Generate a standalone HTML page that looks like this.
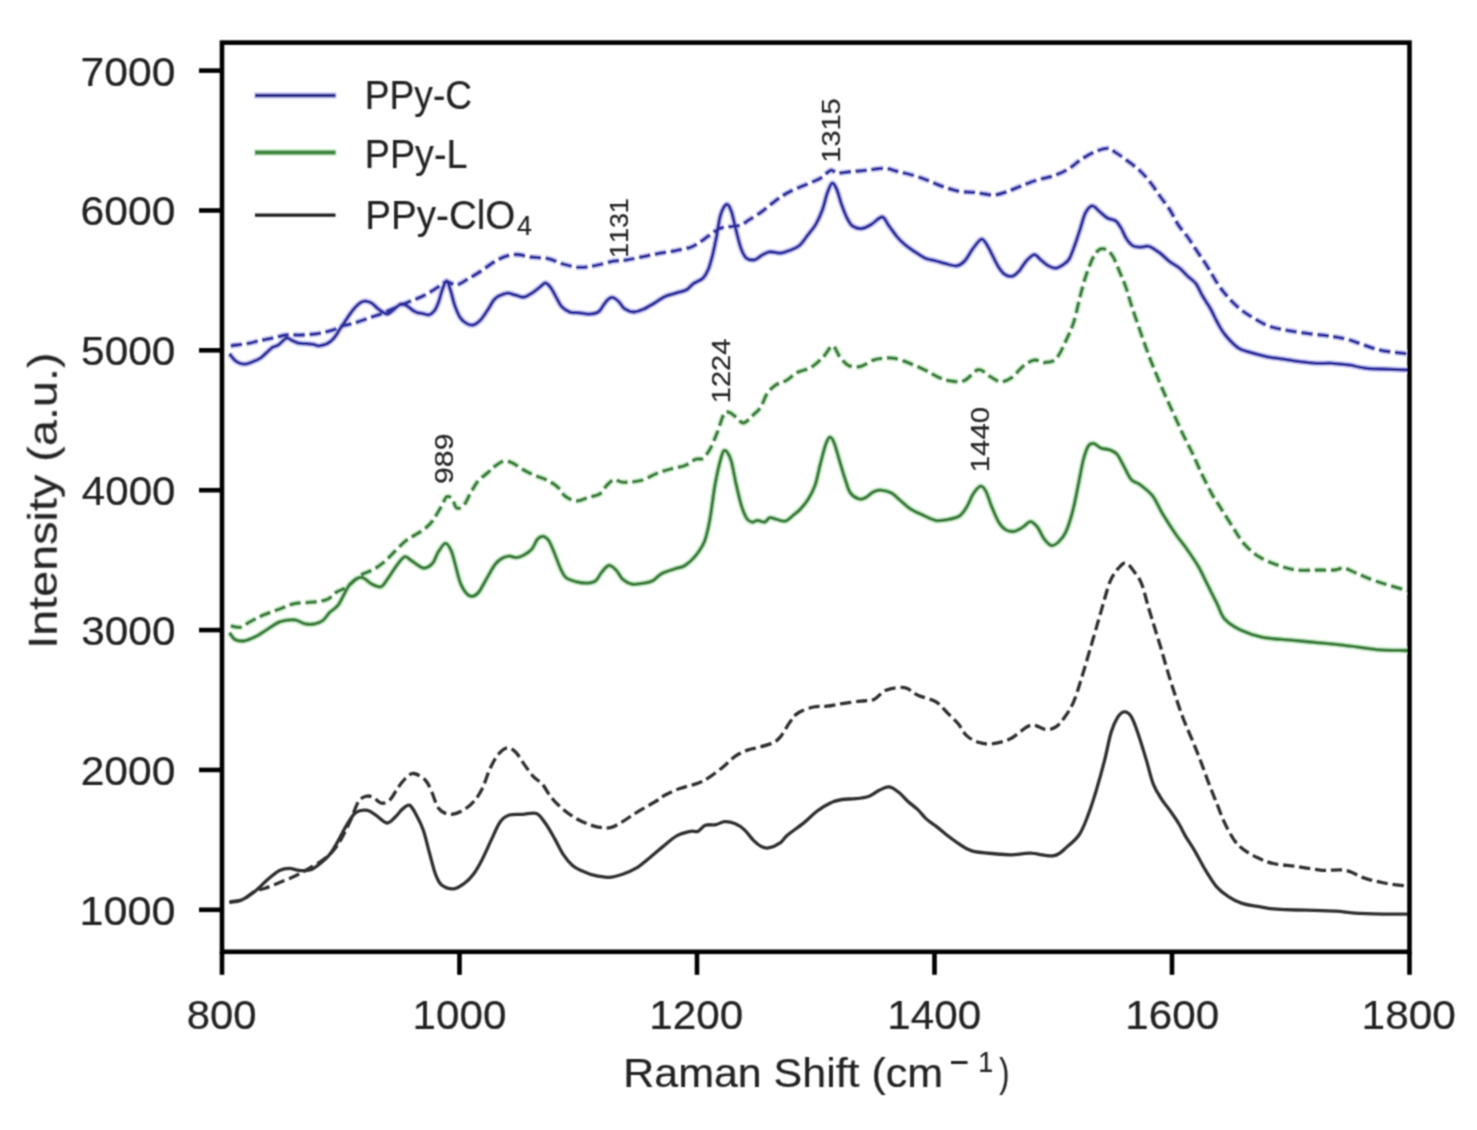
<!DOCTYPE html>
<html><head><meta charset="utf-8"><style>
html,body{margin:0;padding:0;background:#fff;width:1477px;height:1130px;overflow:hidden}
svg{display:block}
text{font-family:"Liberation Sans",sans-serif;font-kerning:none;stroke:#222;stroke-width:0.2px}
</style></head><body>
<svg width="1477" height="1130" viewBox="0 0 1477 1130">
<rect width="1477" height="1130" fill="#fff"/>
<defs><filter id="bl" filterUnits="userSpaceOnUse" x="0" y="0" width="1477" height="1130"><feConvolveMatrix order="3" kernelMatrix="0.0571 0.1248 0.0571 0.1248 0.2725 0.1248 0.0571 0.1248 0.0571" edgeMode="none"/></filter><clipPath id="ax"><rect x="222.0" y="42.6" width="1187.5" height="909.1999999999999"/></clipPath></defs>
<g filter="url(#bl)">
<g clip-path="url(#ax)">
<path d="M230.8,625.9 C232.4,626.1 237.1,628.0 240.3,627.3 C243.5,626.6 246.0,623.9 249.8,621.9 C253.6,619.9 258.3,617.2 263.3,615.1 C268.3,613.0 274.4,610.9 279.6,609.0 C284.8,607.1 289.1,604.7 294.5,603.6 C299.9,602.5 306.7,602.9 312.1,602.2 C317.5,601.5 322.9,601.2 327.0,599.5 C331.1,597.8 333.1,594.2 336.5,592.1 C339.9,590.0 343.2,589.5 347.3,586.7 C351.4,583.9 356.5,578.0 360.8,575.2 C365.1,572.4 369.2,571.9 373.0,569.7 C376.8,567.6 380.2,565.3 383.8,562.3 C387.4,559.3 391.1,555.0 394.7,551.5 C398.3,548.0 402.1,543.8 405.5,541.0 C408.9,538.2 411.9,537.0 415.0,535.0 C418.1,533.0 421.2,531.6 424.2,529.2 C427.1,526.8 429.9,524.5 432.7,520.7 C435.5,516.9 438.8,510.6 441.2,506.6 C443.6,502.6 444.9,497.9 446.8,496.7 C448.7,495.5 450.9,497.6 452.5,499.5 C454.1,501.4 454.8,507.1 456.7,508.0 C458.6,508.9 461.4,507.8 463.8,505.2 C466.2,502.6 468.5,496.4 470.9,492.4 C473.3,488.4 475.2,484.4 478.0,481.1 C480.8,477.8 485.1,475.1 487.9,472.6 C490.7,470.1 492.4,468.1 495.0,466.2 C497.6,464.3 500.7,461.8 503.5,461.2 C506.3,460.6 508.7,461.3 512.0,462.7 C515.3,464.1 519.5,467.6 523.3,469.7 C527.1,471.8 530.8,473.7 534.6,475.4 C538.4,477.1 542.2,477.8 546.0,479.7 C549.8,481.6 554.0,483.9 557.3,486.7 C560.6,489.5 562.5,494.3 565.8,496.7 C569.1,499.1 573.3,500.8 577.1,500.9 C580.9,501.0 584.7,498.6 588.5,497.4 C592.3,496.2 596.7,495.9 599.8,493.8 C602.9,491.7 604.7,487.4 607.1,485.0 C609.5,482.6 611.6,480.1 614.2,479.6 C616.9,479.2 618.6,482.2 623.0,482.3 C627.4,482.4 635.1,482.0 640.7,480.5 C646.3,479.0 651.6,475.4 656.6,473.5 C661.6,471.6 666.1,470.3 670.8,469.0 C675.5,467.7 680.9,467.1 685.0,465.5 C689.1,463.9 692.6,460.5 695.6,459.3 C698.6,458.1 700.4,460.0 702.7,458.4 C705.1,456.8 707.4,453.7 709.7,449.6 C712.1,445.5 714.4,439.5 716.8,433.6 C719.2,427.7 721.8,417.7 723.9,414.2 C726.0,410.7 727.4,412.1 729.2,412.4 C731.0,412.7 732.1,414.1 734.5,415.9 C736.9,417.7 740.4,423.0 743.4,423.0 C746.4,423.0 749.4,418.5 752.2,415.9 C755.1,413.3 758.0,411.2 760.5,407.5 C763.0,403.8 764.5,397.5 767.1,393.7 C769.7,389.9 772.7,387.1 775.9,384.9 C779.1,382.7 783.0,382.5 786.5,380.4 C790.0,378.3 793.1,374.7 797.2,372.5 C801.3,370.3 806.9,369.9 811.3,367.2 C815.7,364.5 820.2,360.1 823.7,356.5 C827.2,352.9 830.0,345.9 832.6,345.9 C835.2,345.9 837.0,353.2 839.6,356.5 C842.2,359.8 845.0,363.8 848.5,365.4 C852.0,367.0 856.8,367.2 860.9,366.3 C865.0,365.4 869.5,361.4 873.3,360.1 C877.1,358.8 880.4,358.6 883.9,358.3 C887.4,358.0 890.1,357.4 894.5,358.3 C898.9,359.2 905.1,361.5 910.4,363.6 C915.7,365.7 922.0,368.6 926.4,370.7 C930.8,372.8 933.3,374.9 937.0,376.5 C940.7,378.1 944.0,379.9 948.5,380.6 C953.0,381.3 958.9,382.6 963.9,380.8 C968.9,379.0 974.0,370.5 978.2,369.7 C982.5,368.9 985.7,374.1 989.4,376.1 C993.1,378.1 996.8,381.4 1000.5,381.6 C1004.2,381.9 1008.0,380.1 1011.7,377.6 C1015.4,375.1 1019.1,369.4 1022.8,366.5 C1026.5,363.6 1030.3,360.8 1034.0,360.1 C1037.7,359.4 1041.4,362.8 1045.1,362.5 C1048.8,362.2 1052.8,362.1 1056.2,358.5 C1059.7,354.9 1062.9,347.1 1065.8,341.0 C1068.7,334.9 1071.4,329.3 1073.8,321.9 C1076.2,314.5 1078.0,304.4 1080.1,296.4 C1082.2,288.4 1084.1,281.0 1086.5,274.1 C1088.9,267.2 1091.8,259.2 1094.5,255.0 C1097.2,250.8 1099.5,248.7 1102.4,248.7 C1105.3,248.7 1109.1,251.0 1112.0,255.0 C1114.9,259.0 1117.5,266.9 1119.9,272.5 C1122.3,278.1 1124.2,282.4 1126.3,288.5 C1128.4,294.6 1129.5,299.7 1132.7,309.2 C1135.9,318.7 1141.6,335.4 1145.2,345.5 C1148.8,355.6 1151.4,362.2 1154.6,370.1 C1157.8,378.0 1160.9,385.6 1164.1,392.9 C1167.3,400.2 1170.4,406.8 1173.6,413.7 C1176.8,420.6 1179.9,428.0 1183.1,434.6 C1186.3,441.2 1189.4,447.0 1192.6,453.6 C1195.8,460.2 1198.8,467.8 1202.0,474.4 C1205.2,481.0 1208.7,488.2 1211.5,493.4 C1214.3,498.6 1215.6,500.0 1219.1,505.5 C1222.6,511.0 1228.3,520.1 1232.4,526.4 C1236.5,532.7 1239.3,538.3 1243.7,543.4 C1248.1,548.5 1253.2,553.1 1258.9,556.7 C1264.6,560.3 1271.6,563.0 1277.9,565.2 C1284.2,567.4 1289.8,569.2 1296.8,570.0 C1303.8,570.8 1313.3,570.0 1319.6,570.0 C1325.9,570.0 1330.6,570.3 1334.7,570.0 C1338.8,569.7 1340.4,567.5 1344.2,568.1 C1348.0,568.7 1352.1,571.5 1357.5,573.7 C1362.9,575.9 1368.5,578.6 1376.4,581.3 C1384.3,584.0 1399.0,588.3 1404.9,589.9 C1410.8,591.5 1410.8,590.8 1412.0,591.0" fill="none" stroke="#d2f2d2" stroke-width="6.3" stroke-linejoin="round" stroke-dasharray="11.2 4.8"/>
<path d="M229.5,632.7 C230.4,633.8 232.4,638.1 234.9,639.5 C237.4,640.9 241.0,641.2 244.4,640.8 C247.8,640.3 251.4,638.7 255.2,636.8 C259.0,634.9 263.3,631.8 267.4,629.3 C271.5,626.8 275.5,623.5 279.6,621.9 C283.7,620.3 288.9,620.0 291.8,619.8 C294.7,619.6 294.9,619.8 297.2,620.5 C299.4,621.2 302.4,623.3 305.3,623.9 C308.2,624.5 311.9,624.5 314.8,623.9 C317.7,623.3 320.4,622.4 322.9,620.5 C325.4,618.6 327.2,614.9 329.7,612.4 C332.2,609.9 335.3,608.8 337.8,605.6 C340.3,602.4 342.6,597.0 344.6,593.4 C346.6,589.8 347.8,586.6 350.0,584.0 C352.2,581.4 355.9,578.9 358.1,577.9 C360.4,576.9 361.2,576.9 363.5,577.9 C365.8,578.9 368.8,582.5 371.7,584.0 C374.6,585.5 378.4,587.6 381.1,586.7 C383.8,585.8 385.4,581.9 387.9,578.5 C390.4,575.1 393.3,570.0 396.0,566.4 C398.7,562.8 401.8,558.0 404.2,556.9 C406.6,555.8 408.4,558.7 410.5,560.0 C412.6,561.3 414.8,563.2 417.1,564.6 C419.4,566.0 421.6,568.4 424.2,568.2 C426.8,568.0 430.3,565.9 432.7,563.2 C435.1,560.5 436.2,555.2 438.3,551.9 C440.4,548.6 443.3,543.6 445.4,543.4 C447.5,543.2 449.5,547.0 451.1,550.5 C452.8,554.0 453.7,558.9 455.3,564.6 C456.9,570.3 458.6,579.3 461.0,584.5 C463.4,589.7 466.7,594.4 469.5,595.8 C472.3,597.2 475.2,595.8 478.0,593.0 C480.8,590.2 483.7,583.5 486.5,578.8 C489.3,574.1 492.4,568.0 495.0,564.6 C497.6,561.2 499.7,559.7 502.1,558.3 C504.5,556.9 506.8,556.2 509.2,556.1 C511.6,556.0 513.9,557.7 516.2,557.6 C518.6,557.5 520.7,556.8 523.3,555.4 C525.9,554.0 529.4,551.8 531.8,549.1 C534.2,546.4 535.6,541.3 537.5,539.2 C539.4,537.1 541.2,536.1 543.1,536.3 C545.0,536.5 546.9,537.8 548.8,540.6 C550.7,543.4 552.6,548.8 554.5,553.3 C556.4,557.8 558.2,563.5 560.1,567.5 C562.0,571.5 563.2,575.0 565.8,577.4 C568.4,579.8 572.2,580.6 575.7,581.6 C579.2,582.6 583.8,583.2 587.1,583.1 C590.4,583.0 593.2,582.7 595.6,580.9 C598.0,579.1 599.3,575.1 601.5,572.5 C603.7,569.9 606.4,565.9 608.8,565.5 C611.2,565.1 613.5,567.5 615.9,569.9 C618.3,572.2 620.3,577.2 623.0,579.6 C625.7,582.0 628.4,583.5 631.9,584.1 C635.4,584.7 640.7,583.8 644.2,583.2 C647.7,582.6 650.2,582.1 653.1,580.5 C656.0,578.9 658.4,575.4 661.9,573.5 C665.4,571.6 670.4,570.3 674.3,569.0 C678.1,567.7 681.5,567.7 685.0,565.5 C688.5,563.3 692.4,559.8 695.6,555.8 C698.8,551.8 702.0,547.5 704.4,541.6 C706.8,535.7 707.9,529.8 709.7,520.4 C711.5,511.0 713.2,495.0 715.0,485.0 C716.8,475.0 718.8,466.0 720.4,460.2 C722.0,454.4 723.0,450.4 724.8,450.4 C726.6,450.4 729.1,454.4 731.0,460.2 C732.9,466.0 734.5,477.3 736.3,485.0 C738.1,492.7 739.8,500.6 741.6,506.2 C743.4,511.8 745.1,516.0 746.9,518.6 C748.7,521.2 750.4,521.8 752.2,522.1 C754.0,522.4 755.4,520.4 757.5,520.4 C759.6,520.4 762.5,522.5 764.6,522.1 C766.7,521.7 767.8,518.1 769.9,517.7 C772.0,517.3 774.4,519.0 777.0,519.5 C779.6,520.0 783.0,521.8 785.8,521.0 C788.5,520.2 791.1,516.9 793.5,515.0 C795.9,513.1 797.6,512.0 800.0,509.5 C802.4,507.0 805.3,503.8 807.8,499.9 C810.3,495.9 812.8,491.7 814.9,485.8 C817.0,479.9 818.4,471.3 820.2,464.5 C822.0,457.7 823.9,449.6 825.5,445.0 C827.1,440.4 828.4,437.4 829.9,437.1 C831.4,436.8 832.7,439.3 834.3,443.3 C835.9,447.3 837.8,455.1 839.6,461.0 C841.4,466.9 843.2,473.4 845.0,478.7 C846.8,484.0 847.9,489.4 850.3,492.8 C852.6,496.2 856.5,498.2 859.1,499.0 C861.8,499.8 863.8,498.5 866.2,497.3 C868.6,496.1 870.9,493.1 873.3,491.9 C875.7,490.7 877.4,490.0 880.4,490.2 C883.4,490.4 887.8,491.2 891.0,492.8 C894.2,494.4 896.6,497.2 899.8,499.9 C903.0,502.6 906.6,506.3 910.4,508.8 C914.2,511.3 918.7,513.1 922.8,515.0 C926.9,516.9 931.1,519.5 935.2,520.3 C939.3,521.1 943.6,520.3 947.6,519.6 C951.6,518.9 956.4,518.0 959.5,516.0 C962.6,514.0 964.1,511.2 966.5,507.4 C968.9,503.6 971.2,496.8 973.6,493.3 C976.0,489.8 978.6,486.5 980.7,486.2 C982.8,485.9 984.2,488.2 986.0,491.5 C987.8,494.8 989.2,500.7 991.3,505.7 C993.4,510.7 996.0,517.6 998.4,521.6 C1000.8,525.6 1002.9,528.0 1005.5,529.6 C1008.1,531.2 1011.3,531.8 1014.3,531.3 C1017.2,530.8 1020.5,528.5 1023.2,526.9 C1025.9,525.3 1028.0,521.6 1030.3,521.6 C1032.6,521.6 1034.9,524.0 1037.3,526.9 C1039.7,529.8 1042.0,536.2 1044.4,539.3 C1046.8,542.4 1049.1,545.1 1051.5,545.5 C1053.9,545.9 1056.2,544.1 1058.6,541.9 C1061.0,539.7 1063.3,537.4 1065.7,532.2 C1068.1,527.1 1070.7,518.7 1072.7,511.0 C1074.8,503.3 1076.2,494.8 1078.0,486.2 C1079.8,477.6 1081.6,466.4 1083.4,459.6 C1085.2,452.8 1086.9,448.1 1088.7,445.5 C1090.5,442.9 1091.9,443.3 1094.0,443.7 C1096.1,444.1 1098.4,447.1 1101.1,448.1 C1103.8,449.1 1107.2,448.9 1109.9,449.9 C1112.6,450.9 1114.6,451.5 1117.0,454.3 C1119.4,457.1 1121.7,462.5 1124.1,466.7 C1126.5,470.9 1128.5,476.4 1131.2,479.5 C1133.9,482.6 1136.9,482.2 1140.5,485.0 C1144.1,487.8 1149.1,491.3 1152.7,496.0 C1156.3,500.7 1158.4,506.8 1162.2,513.1 C1166.0,519.4 1171.4,527.9 1175.5,533.9 C1179.6,539.9 1183.1,543.7 1186.9,549.1 C1190.7,554.5 1194.7,560.2 1198.2,566.2 C1201.7,572.2 1204.5,578.8 1207.7,585.1 C1210.9,591.4 1214.4,598.4 1217.2,604.1 C1220.0,609.8 1221.0,614.9 1224.8,619.2 C1228.6,623.5 1233.7,626.7 1240.0,629.7 C1246.3,632.7 1254.2,635.6 1262.7,637.3 C1271.2,639.0 1281.6,639.2 1291.1,640.1 C1300.6,641.0 1310.1,642.0 1319.6,642.9 C1329.1,643.8 1338.5,644.7 1348.0,645.8 C1357.5,646.9 1366.9,648.8 1376.4,649.6 C1385.9,650.4 1399.0,650.3 1404.9,650.5 C1410.8,650.7 1410.8,650.6 1412.0,650.6" fill="none" stroke="#d2f2d2" stroke-width="6.3" stroke-linejoin="round"/>
<path d="M230.8,345.8 C233.5,345.4 242.1,344.6 247.1,343.7 C252.1,342.8 256.1,341.4 260.6,340.4 C265.1,339.4 269.9,338.6 274.2,337.7 C278.5,336.8 281.9,335.4 286.4,335.0 C290.9,334.6 296.0,335.2 301.2,335.0 C306.4,334.8 312.3,334.4 317.5,333.6 C322.7,332.8 328.3,331.4 332.4,330.2 C336.5,328.9 338.1,327.3 341.9,326.1 C345.7,324.9 350.9,324.2 355.4,322.8 C359.9,321.4 364.5,319.6 369.0,318.0 C373.5,316.4 378.0,315.1 382.5,313.3 C387.0,311.5 391.5,309.2 396.0,307.2 C400.5,305.2 405.0,303.4 409.6,301.5 C414.2,299.6 418.9,298.1 423.5,295.8 C428.1,293.5 433.2,290.1 437.1,287.7 C441.0,285.3 443.5,282.1 446.6,281.6 C449.8,281.2 452.6,285.3 456.0,285.0 C459.4,284.7 462.8,281.9 466.9,279.6 C471.0,277.4 475.9,274.4 480.4,271.5 C484.9,268.6 489.9,264.5 494.0,262.0 C498.1,259.5 501.0,257.9 504.8,256.6 C508.6,255.4 512.5,254.4 517.0,254.5 C521.5,254.6 526.7,256.5 531.9,257.2 C537.1,257.9 542.9,257.5 548.1,258.6 C553.3,259.7 557.8,262.5 563.0,264.0 C568.2,265.5 573.9,267.1 579.3,267.4 C584.7,267.6 589.8,266.5 595.5,265.5 C601.2,264.5 608.2,262.1 613.5,261.2 C618.8,260.3 622.6,260.6 627.1,259.9 C631.6,259.2 635.6,258.2 640.6,257.2 C645.6,256.2 651.5,254.8 656.9,253.8 C662.3,252.8 667.7,252.1 673.1,251.1 C678.5,250.1 685.3,248.9 689.4,247.7 C693.5,246.4 694.4,245.5 697.5,243.6 C700.6,241.7 704.7,238.7 708.3,236.2 C711.9,233.7 715.8,230.3 719.2,228.7 C722.6,227.1 725.2,227.2 728.6,226.7 C732.0,226.1 736.1,226.5 739.5,225.4 C742.9,224.3 745.2,222.3 749.0,219.9 C752.8,217.5 758.0,214.4 762.5,211.1 C767.0,207.8 771.5,203.5 776.0,200.3 C780.5,197.1 784.3,194.4 789.6,191.7 C794.9,189.0 802.4,186.2 807.6,183.9 C812.9,181.6 817.3,180.1 821.1,177.8 C824.9,175.5 827.9,171.1 830.6,170.3 C833.3,169.5 834.0,172.8 837.4,173.0 C840.8,173.2 846.2,172.1 850.9,171.7 C855.6,171.2 860.1,170.9 865.8,170.3 C871.4,169.7 879.4,168.1 884.8,168.3 C890.2,168.5 893.3,170.5 898.3,171.7 C903.3,172.9 909.4,174.1 914.6,175.7 C919.8,177.3 924.8,179.3 929.5,181.1 C934.2,182.9 938.0,184.9 943.0,186.6 C948.0,188.3 953.9,190.3 959.3,191.3 C964.7,192.3 969.8,191.9 975.5,192.5 C981.2,193.1 988.2,195.2 993.5,195.0 C998.8,194.8 1002.6,193.1 1007.1,191.6 C1011.6,190.1 1015.6,188.1 1020.6,186.2 C1025.6,184.3 1031.5,181.8 1036.9,180.1 C1042.3,178.4 1047.9,177.8 1053.1,176.0 C1058.3,174.2 1063.2,172.1 1068.0,169.3 C1072.8,166.5 1077.1,162.0 1081.6,159.1 C1086.1,156.2 1090.8,153.5 1095.1,151.7 C1099.4,149.9 1103.9,148.2 1107.3,148.3 C1110.7,148.4 1112.2,150.4 1115.4,152.3 C1118.6,154.2 1122.1,156.8 1126.2,159.8 C1130.3,162.9 1135.7,166.8 1139.8,170.6 C1143.9,174.4 1147.2,178.5 1150.6,182.8 C1154.0,187.1 1156.9,191.9 1160.1,196.4 C1163.3,200.9 1167.0,205.3 1170.0,210.0 C1173.0,214.7 1175.0,219.9 1178.0,224.5 C1181.0,229.1 1184.6,232.8 1187.9,237.4 C1191.2,242.0 1194.3,247.1 1197.6,252.0 C1200.8,256.9 1204.2,261.5 1207.4,266.6 C1210.7,271.8 1213.8,278.0 1217.1,282.9 C1220.3,287.8 1223.1,291.6 1226.9,295.9 C1230.7,300.2 1235.3,305.1 1239.9,308.9 C1244.5,312.7 1249.4,315.6 1254.5,318.6 C1259.6,321.6 1264.8,324.7 1270.7,326.7 C1276.7,328.7 1283.2,329.6 1290.2,330.8 C1297.2,332.0 1306.0,333.2 1313.0,334.1 C1320.0,335.1 1326.5,335.6 1332.5,336.5 C1338.5,337.4 1343.3,338.2 1348.7,339.7 C1354.1,341.2 1359.6,343.6 1365.0,345.4 C1370.4,347.2 1374.4,348.9 1381.2,350.3 C1388.0,351.7 1400.5,353.0 1405.6,353.6 C1410.7,354.2 1410.9,353.9 1412.0,354.0" fill="none" stroke="#d4d4fa" stroke-width="6.3" stroke-linejoin="round" stroke-dasharray="11.2 4.8"/>
<path d="M229.5,353.9 C230.6,355.1 233.7,359.6 236.2,361.3 C238.7,363.0 241.4,364.1 244.4,364.1 C247.4,364.1 251.2,362.3 253.9,361.3 C256.6,360.3 258.4,359.6 260.6,358.0 C262.9,356.4 265.4,353.7 267.4,351.9 C269.4,350.1 271.0,348.2 272.8,347.1 C274.6,346.0 275.9,346.6 278.2,345.1 C280.5,343.6 284.1,339.1 286.4,338.3 C288.7,337.5 289.8,339.6 291.8,340.4 C293.8,341.2 296.0,342.6 298.5,343.1 C301.0,343.7 304.2,343.5 306.7,343.7 C309.2,343.9 311.4,344.0 313.4,344.4 C315.4,344.8 316.5,345.9 318.8,345.8 C321.1,345.7 324.5,344.9 327.0,343.7 C329.5,342.4 331.7,340.6 333.7,338.3 C335.7,336.1 337.4,332.9 339.2,330.2 C341.0,327.5 342.8,324.8 344.6,322.1 C346.4,319.4 348.2,316.5 350.0,314.0 C351.8,311.5 353.6,309.1 355.4,307.2 C357.2,305.3 359.1,303.4 360.8,302.4 C362.5,301.4 363.8,301.0 365.6,301.1 C367.4,301.2 369.8,302.0 371.7,303.1 C373.6,304.2 375.3,306.4 377.1,307.9 C378.9,309.4 380.8,310.9 382.5,311.9 C384.2,312.9 385.6,314.1 387.2,314.0 C388.8,313.9 390.3,312.4 392.0,311.2 C393.7,309.9 395.8,307.7 397.4,306.5 C399.0,305.3 399.8,303.9 401.4,303.8 C403.0,303.7 405.1,304.8 406.9,305.8 C408.7,306.8 410.6,308.9 412.3,310.0 C414.0,311.1 415.4,311.9 417.0,312.5 C418.6,313.1 420.2,313.0 422.2,313.4 C424.2,313.8 427.0,315.2 429.0,314.8 C431.0,314.4 432.8,312.7 434.4,310.7 C436.0,308.7 437.0,306.2 438.4,302.6 C439.8,299.0 441.1,292.7 442.5,289.1 C443.9,285.5 445.2,280.7 446.6,280.9 C448.0,281.1 449.2,286.3 450.6,290.4 C452.0,294.5 453.1,300.8 454.7,305.3 C456.3,309.8 458.1,314.4 460.1,317.5 C462.1,320.6 464.6,322.4 466.9,323.6 C469.1,324.8 471.4,325.5 473.6,324.9 C475.9,324.3 478.1,322.6 480.4,320.2 C482.7,317.8 484.9,314.1 487.2,310.7 C489.5,307.3 492.0,302.4 494.0,299.9 C496.0,297.4 497.1,296.9 499.4,295.8 C501.6,294.7 504.8,293.2 507.5,293.1 C510.2,293.0 512.9,294.5 515.6,295.2 C518.3,295.9 521.0,297.5 523.7,297.2 C526.4,296.9 529.2,294.8 531.9,293.1 C534.6,291.4 537.8,288.7 540.0,287.0 C542.2,285.3 543.6,282.9 545.4,283.0 C547.2,283.1 549.0,285.3 550.8,287.7 C552.6,290.1 554.4,294.0 556.2,297.2 C558.0,300.4 559.4,304.2 561.7,306.7 C564.0,309.2 566.9,311.1 569.8,312.1 C572.7,313.1 576.1,312.5 579.3,312.8 C582.4,313.1 585.6,314.2 588.7,314.1 C591.9,314.0 595.7,313.5 598.2,312.0 C600.7,310.5 602.0,307.1 603.6,305.0 C605.2,302.9 606.5,300.8 608.0,299.5 C609.5,298.2 611.1,297.1 612.9,297.5 C614.7,297.9 617.1,300.0 619.0,301.9 C620.9,303.8 621.9,306.9 624.4,308.6 C626.9,310.3 630.8,311.9 633.9,312.0 C637.0,312.1 639.9,310.8 643.3,309.3 C646.7,307.8 650.6,305.3 654.2,303.2 C657.8,301.1 661.4,298.2 665.0,296.5 C668.6,294.8 672.2,294.2 675.8,293.1 C679.4,292.0 683.8,291.3 686.7,289.7 C689.6,288.1 690.7,285.5 693.4,283.6 C696.1,281.7 700.4,280.6 702.9,278.2 C705.4,275.8 706.7,273.1 708.3,269.4 C709.9,265.7 711.0,261.2 712.4,255.8 C713.8,250.4 715.1,243.7 716.5,236.9 C717.9,230.1 718.8,220.6 720.5,215.2 C722.2,209.8 724.8,205.1 726.6,204.4 C728.4,203.7 729.8,207.3 731.3,211.1 C732.8,214.9 733.8,221.3 735.4,227.4 C737.0,233.5 739.0,242.6 740.8,247.7 C742.6,252.8 743.9,255.9 746.2,257.9 C748.5,259.9 751.9,260.2 754.4,259.9 C756.9,259.5 758.6,257.1 761.1,255.8 C763.6,254.5 766.1,252.2 769.3,251.8 C772.5,251.4 776.7,253.3 780.1,253.1 C783.5,252.9 786.4,251.7 789.6,250.4 C792.8,249.1 796.5,248.0 799.5,245.5 C802.5,243.0 804.9,238.8 807.6,235.3 C810.3,231.8 813.2,228.8 815.7,224.5 C818.2,220.2 820.6,214.8 822.5,209.6 C824.4,204.4 825.6,197.7 827.2,193.3 C828.8,188.9 830.4,183.9 832.0,183.2 C833.6,182.5 835.1,185.8 836.7,189.3 C838.3,192.8 839.8,199.5 841.5,204.2 C843.2,208.9 845.1,214.1 846.9,217.7 C848.7,221.3 849.8,224.0 852.3,225.8 C854.8,227.6 858.6,228.7 861.8,228.5 C864.9,228.3 867.8,226.4 871.2,224.5 C874.6,222.6 879.2,216.8 882.1,217.0 C885.0,217.2 886.4,222.5 888.9,225.8 C891.4,229.1 894.3,233.5 897.0,236.7 C899.7,239.9 902.2,242.3 905.1,244.8 C908.0,247.3 911.2,249.3 914.6,251.6 C918.0,253.8 921.8,256.7 925.4,258.3 C929.0,259.9 932.8,260.1 936.2,261.0 C939.6,261.9 942.3,262.9 945.7,263.7 C949.1,264.5 953.4,266.2 956.6,265.8 C959.8,265.4 962.0,263.8 964.7,261.0 C967.4,258.2 970.1,252.4 972.8,248.8 C975.5,245.2 978.8,240.5 980.9,239.4 C983.0,238.3 983.8,240.3 985.4,242.4 C987.0,244.5 988.8,248.1 990.8,251.9 C992.8,255.7 995.3,261.7 997.6,265.4 C999.9,269.1 1001.9,272.4 1004.4,274.2 C1006.9,276.0 1010.0,276.8 1012.5,276.2 C1015.0,275.6 1017.0,273.3 1019.3,270.8 C1021.5,268.3 1023.5,264.0 1026.0,261.3 C1028.5,258.6 1031.7,254.8 1034.2,254.6 C1036.7,254.4 1038.7,258.2 1040.9,260.0 C1043.2,261.8 1045.2,264.0 1047.7,265.4 C1050.2,266.8 1053.1,268.3 1055.8,268.1 C1058.5,267.9 1061.7,265.7 1064.0,264.1 C1066.3,262.5 1067.6,261.8 1069.4,258.6 C1071.2,255.4 1073.0,250.1 1074.8,245.1 C1076.6,240.1 1078.4,234.3 1080.2,228.9 C1082.0,223.5 1083.6,216.4 1085.6,212.6 C1087.6,208.8 1090.1,206.0 1092.4,205.8 C1094.7,205.6 1096.7,209.2 1099.2,211.2 C1101.7,213.2 1104.6,216.4 1107.3,218.0 C1110.0,219.6 1113.2,219.1 1115.4,220.7 C1117.7,222.3 1119.0,224.6 1120.8,227.5 C1122.6,230.4 1124.2,235.2 1126.2,238.3 C1128.2,241.4 1130.5,244.3 1133.0,245.8 C1135.5,247.3 1138.4,247.0 1141.1,247.1 C1143.8,247.2 1146.1,245.5 1149.3,246.5 C1152.5,247.5 1156.7,250.7 1160.1,253.2 C1163.5,255.7 1166.3,259.0 1169.6,261.5 C1172.9,264.0 1176.7,265.7 1179.7,268.2 C1182.8,270.7 1185.2,273.8 1187.9,276.4 C1190.6,279.0 1193.6,280.4 1196.0,283.7 C1198.4,286.9 1200.1,291.7 1202.5,295.9 C1204.9,300.1 1208.2,304.6 1210.6,308.9 C1213.0,313.2 1214.7,317.6 1217.1,321.9 C1219.5,326.2 1221.7,330.6 1225.2,334.9 C1228.7,339.2 1233.9,344.9 1238.2,347.9 C1242.5,350.9 1246.3,351.2 1251.2,352.7 C1256.1,354.2 1262.1,355.7 1267.5,356.8 C1272.9,357.9 1278.3,358.4 1283.7,359.2 C1289.1,360.0 1294.6,361.0 1300.0,361.7 C1305.4,362.4 1310.8,363.0 1316.2,363.3 C1321.6,363.6 1327.1,363.0 1332.5,363.3 C1337.9,363.6 1343.3,364.1 1348.7,364.9 C1354.1,365.7 1359.6,367.5 1365.0,368.2 C1370.4,368.9 1374.4,368.7 1381.2,369.0 C1388.0,369.3 1400.5,369.6 1405.6,369.8 C1410.7,370.0 1410.9,370.0 1412.0,370.0" fill="none" stroke="#d4d4fa" stroke-width="6.3" stroke-linejoin="round"/>
<path d="M229.9,901.6 C232.0,901.2 238.4,901.3 242.7,899.5 C246.9,897.7 251.6,892.9 255.4,891.0 C259.2,889.1 261.3,889.6 265.3,888.2 C269.3,886.8 274.5,884.5 279.5,882.5 C284.5,880.5 290.4,878.3 295.1,876.1 C299.8,873.9 303.3,871.7 307.8,869.1 C312.3,866.5 317.8,863.7 322.0,860.6 C326.2,857.5 330.0,854.5 333.3,850.7 C336.6,846.9 339.0,842.9 341.8,837.9 C344.6,832.9 347.5,827.0 350.3,820.9 C353.1,814.8 356.0,805.2 358.8,801.1 C361.6,797.0 364.7,796.6 367.3,796.1 C369.9,795.6 372.0,797.0 374.4,798.2 C376.8,799.4 378.9,803.0 381.5,803.2 C384.1,803.5 387.2,802.4 390.0,799.7 C392.8,797.0 395.7,790.7 398.5,786.9 C401.3,783.1 404.4,779.2 407.0,777.0 C409.6,774.8 411.0,773.0 414.0,773.5 C417.0,774.0 422.1,776.9 425.0,779.7 C427.9,782.5 428.8,785.4 431.1,790.2 C433.4,795.0 435.6,804.3 438.6,808.3 C441.6,812.3 445.3,813.8 449.1,814.3 C452.9,814.8 457.2,813.3 461.2,811.3 C465.2,809.3 469.7,806.0 473.2,802.2 C476.7,798.4 479.4,794.2 482.2,788.7 C485.0,783.2 487.3,774.6 489.8,769.1 C492.3,763.6 494.6,759.1 497.3,755.6 C500.1,752.1 503.3,748.7 506.3,748.1 C509.3,747.5 512.3,749.0 515.3,751.8 C518.3,754.5 521.4,760.5 524.4,764.6 C527.4,768.8 530.4,773.4 533.4,776.7 C536.4,780.0 539.4,780.7 542.4,784.2 C545.4,787.7 548.2,793.7 551.5,797.7 C554.8,801.7 558.2,805.0 562.0,808.3 C565.8,811.6 570.0,814.8 574.0,817.3 C578.0,819.8 582.1,821.7 586.1,823.3 C590.1,824.9 594.0,826.4 598.1,827.1 C602.2,827.8 606.4,828.5 610.5,827.6 C614.6,826.7 618.1,824.2 622.6,821.6 C627.1,819.0 631.8,815.3 637.6,811.8 C643.4,808.3 652.7,803.3 657.2,800.5 C661.7,797.7 660.9,797.2 664.7,795.2 C668.5,793.2 674.3,790.5 679.8,788.5 C685.3,786.5 693.0,785.0 697.8,783.2 C702.6,781.4 704.1,780.6 708.4,777.9 C712.7,775.1 718.9,770.3 723.4,766.7 C727.9,763.1 731.4,758.9 735.4,756.1 C739.4,753.3 743.5,751.6 747.5,750.1 C751.5,748.6 755.2,748.4 759.5,747.1 C763.8,745.9 769.6,744.4 773.1,742.6 C776.6,740.9 777.8,740.0 780.6,736.6 C783.4,733.2 787.1,725.9 790.0,722.0 C792.9,718.1 794.1,715.5 798.0,713.0 C801.9,710.5 808.7,708.1 813.5,707.0 C818.3,705.9 822.2,706.8 827.0,706.2 C831.8,705.6 836.5,704.5 842.1,703.6 C847.7,702.8 855.3,701.8 860.6,701.1 C865.9,700.4 869.9,701.2 874.1,699.4 C878.3,697.6 880.9,692.2 885.9,690.2 C890.9,688.2 899.1,686.9 904.4,687.7 C909.7,688.5 912.5,692.8 917.8,695.2 C923.1,697.6 931.2,698.9 936.3,702.0 C941.3,705.1 944.5,710.1 948.1,713.7 C951.8,717.3 955.1,720.1 958.2,723.8 C961.3,727.4 963.2,732.5 966.6,735.6 C970.0,738.7 974.2,740.9 978.4,742.3 C982.6,743.7 986.5,744.4 991.8,743.8 C997.1,743.2 1003.8,741.9 1010.3,738.8 C1016.8,735.7 1024.6,726.8 1030.5,725.3 C1036.4,723.8 1041.4,729.2 1045.6,729.5 C1049.8,729.8 1052.7,728.9 1055.7,727.0 C1058.8,725.1 1061.0,722.4 1063.9,718.3 C1066.9,714.2 1070.5,709.0 1073.4,702.4 C1076.3,695.8 1078.7,687.0 1081.4,678.5 C1084.1,670.0 1086.8,660.5 1089.4,651.5 C1092.1,642.5 1094.9,632.6 1097.3,624.4 C1099.7,616.2 1101.6,609.3 1103.7,602.1 C1105.8,594.9 1107.7,587.0 1110.1,581.4 C1112.5,575.8 1115.3,571.8 1118.0,568.7 C1120.7,565.7 1123.1,562.3 1126.0,563.1 C1128.9,563.9 1132.8,569.8 1135.5,573.4 C1138.2,577.0 1139.8,579.0 1141.9,584.6 C1144.0,590.2 1146.2,599.7 1148.3,606.9 C1150.4,614.1 1152.5,620.7 1154.6,627.6 C1156.7,634.5 1158.9,641.1 1161.0,648.3 C1163.1,655.5 1165.0,662.6 1167.4,670.6 C1169.8,678.6 1172.7,687.9 1175.4,696.0 C1178.1,704.1 1180.6,711.7 1183.6,719.5 C1186.6,727.3 1190.5,735.7 1193.4,742.8 C1196.3,749.9 1198.5,755.5 1201.1,762.3 C1203.7,769.1 1206.3,776.9 1208.9,783.7 C1211.5,790.5 1214.1,796.7 1216.7,803.2 C1219.3,809.7 1221.6,816.5 1224.5,822.6 C1227.4,828.8 1231.0,835.6 1234.2,840.1 C1237.5,844.6 1240.1,847.0 1244.0,849.9 C1247.9,852.8 1252.7,855.4 1257.6,857.7 C1262.5,860.0 1266.7,862.0 1273.2,863.5 C1279.7,865.0 1288.4,865.3 1296.5,866.4 C1304.6,867.5 1313.7,869.6 1321.8,870.3 C1329.9,870.9 1338.1,869.0 1345.2,870.3 C1352.3,871.6 1358.1,876.0 1364.6,878.1 C1371.1,880.2 1377.3,881.7 1384.1,883.0 C1390.9,884.3 1400.8,885.3 1405.5,885.9 C1410.2,886.5 1410.9,886.4 1412.0,886.5" fill="none" stroke="#2e2e2e" stroke-width="3.3" stroke-linejoin="round" stroke-linecap="butt" stroke-dasharray="11.2 4.8"/>
<path d="M229.2,902.4 C231.2,902.0 236.8,902.1 241.2,900.2 C245.6,898.3 250.9,894.5 255.4,891.0 C259.9,887.5 264.2,882.4 268.2,879.0 C272.2,875.6 276.0,872.3 279.5,870.5 C283.0,868.7 286.1,868.4 289.4,868.4 C292.7,868.4 295.8,870.3 299.3,870.5 C302.9,870.7 306.9,871.2 310.7,869.8 C314.5,868.4 318.7,864.7 322.0,862.0 C325.3,859.3 327.7,857.3 330.5,853.5 C333.3,849.7 336.2,844.3 339.0,839.3 C341.8,834.3 344.7,828.2 347.5,823.7 C350.3,819.2 352.7,814.6 356.0,812.4 C359.3,810.2 364.0,809.8 367.3,810.3 C370.6,810.8 372.5,813.1 375.8,815.2 C379.1,817.3 383.8,822.8 387.1,823.0 C390.4,823.2 393.0,819.1 395.6,816.7 C398.2,814.4 400.3,810.8 402.7,808.9 C405.1,807.0 407.3,803.9 409.8,805.3 C412.3,806.7 415.2,813.0 417.5,817.3 C419.8,821.5 421.5,824.8 423.5,830.8 C425.5,836.8 427.6,846.1 429.6,853.4 C431.6,860.7 433.6,869.2 435.6,874.5 C437.6,879.8 438.6,882.6 441.6,885.0 C444.6,887.4 449.8,889.0 453.6,888.8 C457.4,888.5 460.9,885.9 464.2,883.5 C467.5,881.1 470.2,878.5 473.2,874.5 C476.2,870.5 479.2,865.2 482.2,859.4 C485.2,853.6 488.3,846.2 491.3,839.9 C494.3,833.6 497.3,825.9 500.3,821.8 C503.3,817.6 505.5,816.2 509.3,815.0 C513.1,813.8 518.4,814.5 522.9,814.3 C527.4,814.0 532.6,812.0 536.4,813.5 C540.1,815.0 542.4,819.1 545.4,823.3 C548.4,827.4 551.5,833.1 554.5,838.4 C557.5,843.7 560.5,850.4 563.5,854.9 C566.5,859.4 569.5,862.8 572.5,865.4 C575.5,868.0 578.1,869.1 581.6,870.7 C585.1,872.3 589.0,874.1 593.6,875.2 C598.2,876.3 604.2,877.5 609.0,877.3 C613.8,877.1 618.1,875.7 622.6,874.2 C627.1,872.7 631.6,871.0 636.1,868.2 C640.6,865.5 645.2,861.3 649.7,857.7 C654.2,854.1 658.7,850.0 663.2,846.4 C667.7,842.8 672.2,838.4 676.7,835.9 C681.2,833.4 686.8,832.1 690.3,831.4 C693.8,830.6 695.3,832.4 697.8,831.4 C700.3,830.4 702.3,826.4 705.3,825.3 C708.3,824.2 712.6,825.2 715.9,824.6 C719.2,824.0 721.6,821.7 724.9,821.6 C728.1,821.5 732.1,822.4 735.4,823.8 C738.7,825.2 741.5,827.1 744.5,829.9 C747.5,832.7 750.8,837.6 753.5,840.4 C756.2,843.1 758.5,845.1 761.0,846.4 C763.5,847.6 765.2,848.5 768.5,847.9 C771.8,847.3 777.5,844.7 780.6,842.6 C783.7,840.5 783.2,838.8 787.0,835.5 C790.8,832.2 798.5,827.1 803.5,823.1 C808.5,819.1 812.4,814.7 816.9,811.3 C821.4,807.9 826.2,804.9 830.4,802.9 C834.6,800.9 837.9,800.2 842.1,799.5 C846.3,798.8 851.1,799.2 855.6,798.7 C860.1,798.2 865.2,797.6 869.1,796.2 C873.0,794.8 875.9,791.8 879.2,790.3 C882.6,788.8 885.9,786.5 889.2,786.9 C892.6,787.3 896.2,790.4 899.3,792.8 C902.4,795.2 904.6,798.4 907.7,801.2 C910.8,804.0 914.7,806.7 917.8,809.6 C920.9,812.5 923.1,816.1 926.2,818.9 C929.3,821.7 932.9,823.8 936.3,826.4 C939.7,829.0 942.8,832.0 946.4,834.8 C950.0,837.6 954.0,840.6 958.2,843.3 C962.4,846.0 965.3,849.0 971.7,850.8 C978.1,852.6 990.1,853.3 996.8,854.0 C1003.5,854.7 1006.4,854.9 1012.0,854.8 C1017.6,854.7 1023.5,853.1 1030.5,853.2 C1037.5,853.4 1047.8,856.8 1054.0,855.7 C1060.2,854.6 1063.3,849.9 1067.5,846.4 C1071.7,842.9 1075.8,839.7 1079.2,834.7 C1082.6,829.7 1084.9,823.5 1087.7,816.2 C1090.5,808.9 1093.3,800.2 1096.1,790.9 C1098.9,781.6 1102.0,770.4 1104.5,760.6 C1107.0,750.8 1109.0,739.4 1111.2,732.1 C1113.4,724.8 1115.7,720.3 1117.9,716.9 C1120.2,713.5 1122.5,711.9 1124.7,711.9 C1127.0,711.9 1129.2,713.3 1131.4,716.9 C1133.6,720.5 1135.6,726.4 1138.1,733.7 C1140.6,741.0 1144.0,752.2 1146.5,760.6 C1149.0,769.0 1150.8,777.8 1153.3,784.2 C1155.8,790.7 1158.8,794.7 1161.7,799.3 C1164.7,803.9 1168.1,807.9 1171.0,812.0 C1173.9,816.1 1176.6,820.0 1179.0,824.0 C1181.4,828.0 1182.9,831.7 1185.6,836.3 C1188.3,840.9 1192.1,846.3 1195.3,851.8 C1198.5,857.3 1201.4,863.4 1205.0,869.3 C1208.6,875.1 1212.8,882.3 1216.7,886.9 C1220.6,891.5 1224.2,893.9 1228.4,896.6 C1232.6,899.4 1237.1,901.8 1242.0,903.4 C1246.9,905.0 1251.8,905.3 1257.6,906.3 C1263.4,907.3 1269.0,908.6 1277.1,909.2 C1285.2,909.9 1296.6,909.9 1306.3,910.2 C1316.0,910.5 1327.4,910.7 1335.5,911.2 C1343.6,911.7 1346.8,912.6 1354.9,913.1 C1363.0,913.6 1375.7,913.9 1384.1,914.1 C1392.5,914.3 1400.8,914.1 1405.5,914.1 C1410.2,914.1 1410.9,914.0 1412.0,914.0" fill="none" stroke="#2e2e2e" stroke-width="3.3" stroke-linejoin="round" stroke-linecap="butt"/>
<path d="M230.8,625.9 C232.4,626.1 237.1,628.0 240.3,627.3 C243.5,626.6 246.0,623.9 249.8,621.9 C253.6,619.9 258.3,617.2 263.3,615.1 C268.3,613.0 274.4,610.9 279.6,609.0 C284.8,607.1 289.1,604.7 294.5,603.6 C299.9,602.5 306.7,602.9 312.1,602.2 C317.5,601.5 322.9,601.2 327.0,599.5 C331.1,597.8 333.1,594.2 336.5,592.1 C339.9,590.0 343.2,589.5 347.3,586.7 C351.4,583.9 356.5,578.0 360.8,575.2 C365.1,572.4 369.2,571.9 373.0,569.7 C376.8,567.6 380.2,565.3 383.8,562.3 C387.4,559.3 391.1,555.0 394.7,551.5 C398.3,548.0 402.1,543.8 405.5,541.0 C408.9,538.2 411.9,537.0 415.0,535.0 C418.1,533.0 421.2,531.6 424.2,529.2 C427.1,526.8 429.9,524.5 432.7,520.7 C435.5,516.9 438.8,510.6 441.2,506.6 C443.6,502.6 444.9,497.9 446.8,496.7 C448.7,495.5 450.9,497.6 452.5,499.5 C454.1,501.4 454.8,507.1 456.7,508.0 C458.6,508.9 461.4,507.8 463.8,505.2 C466.2,502.6 468.5,496.4 470.9,492.4 C473.3,488.4 475.2,484.4 478.0,481.1 C480.8,477.8 485.1,475.1 487.9,472.6 C490.7,470.1 492.4,468.1 495.0,466.2 C497.6,464.3 500.7,461.8 503.5,461.2 C506.3,460.6 508.7,461.3 512.0,462.7 C515.3,464.1 519.5,467.6 523.3,469.7 C527.1,471.8 530.8,473.7 534.6,475.4 C538.4,477.1 542.2,477.8 546.0,479.7 C549.8,481.6 554.0,483.9 557.3,486.7 C560.6,489.5 562.5,494.3 565.8,496.7 C569.1,499.1 573.3,500.8 577.1,500.9 C580.9,501.0 584.7,498.6 588.5,497.4 C592.3,496.2 596.7,495.9 599.8,493.8 C602.9,491.7 604.7,487.4 607.1,485.0 C609.5,482.6 611.6,480.1 614.2,479.6 C616.9,479.2 618.6,482.2 623.0,482.3 C627.4,482.4 635.1,482.0 640.7,480.5 C646.3,479.0 651.6,475.4 656.6,473.5 C661.6,471.6 666.1,470.3 670.8,469.0 C675.5,467.7 680.9,467.1 685.0,465.5 C689.1,463.9 692.6,460.5 695.6,459.3 C698.6,458.1 700.4,460.0 702.7,458.4 C705.1,456.8 707.4,453.7 709.7,449.6 C712.1,445.5 714.4,439.5 716.8,433.6 C719.2,427.7 721.8,417.7 723.9,414.2 C726.0,410.7 727.4,412.1 729.2,412.4 C731.0,412.7 732.1,414.1 734.5,415.9 C736.9,417.7 740.4,423.0 743.4,423.0 C746.4,423.0 749.4,418.5 752.2,415.9 C755.1,413.3 758.0,411.2 760.5,407.5 C763.0,403.8 764.5,397.5 767.1,393.7 C769.7,389.9 772.7,387.1 775.9,384.9 C779.1,382.7 783.0,382.5 786.5,380.4 C790.0,378.3 793.1,374.7 797.2,372.5 C801.3,370.3 806.9,369.9 811.3,367.2 C815.7,364.5 820.2,360.1 823.7,356.5 C827.2,352.9 830.0,345.9 832.6,345.9 C835.2,345.9 837.0,353.2 839.6,356.5 C842.2,359.8 845.0,363.8 848.5,365.4 C852.0,367.0 856.8,367.2 860.9,366.3 C865.0,365.4 869.5,361.4 873.3,360.1 C877.1,358.8 880.4,358.6 883.9,358.3 C887.4,358.0 890.1,357.4 894.5,358.3 C898.9,359.2 905.1,361.5 910.4,363.6 C915.7,365.7 922.0,368.6 926.4,370.7 C930.8,372.8 933.3,374.9 937.0,376.5 C940.7,378.1 944.0,379.9 948.5,380.6 C953.0,381.3 958.9,382.6 963.9,380.8 C968.9,379.0 974.0,370.5 978.2,369.7 C982.5,368.9 985.7,374.1 989.4,376.1 C993.1,378.1 996.8,381.4 1000.5,381.6 C1004.2,381.9 1008.0,380.1 1011.7,377.6 C1015.4,375.1 1019.1,369.4 1022.8,366.5 C1026.5,363.6 1030.3,360.8 1034.0,360.1 C1037.7,359.4 1041.4,362.8 1045.1,362.5 C1048.8,362.2 1052.8,362.1 1056.2,358.5 C1059.7,354.9 1062.9,347.1 1065.8,341.0 C1068.7,334.9 1071.4,329.3 1073.8,321.9 C1076.2,314.5 1078.0,304.4 1080.1,296.4 C1082.2,288.4 1084.1,281.0 1086.5,274.1 C1088.9,267.2 1091.8,259.2 1094.5,255.0 C1097.2,250.8 1099.5,248.7 1102.4,248.7 C1105.3,248.7 1109.1,251.0 1112.0,255.0 C1114.9,259.0 1117.5,266.9 1119.9,272.5 C1122.3,278.1 1124.2,282.4 1126.3,288.5 C1128.4,294.6 1129.5,299.7 1132.7,309.2 C1135.9,318.7 1141.6,335.4 1145.2,345.5 C1148.8,355.6 1151.4,362.2 1154.6,370.1 C1157.8,378.0 1160.9,385.6 1164.1,392.9 C1167.3,400.2 1170.4,406.8 1173.6,413.7 C1176.8,420.6 1179.9,428.0 1183.1,434.6 C1186.3,441.2 1189.4,447.0 1192.6,453.6 C1195.8,460.2 1198.8,467.8 1202.0,474.4 C1205.2,481.0 1208.7,488.2 1211.5,493.4 C1214.3,498.6 1215.6,500.0 1219.1,505.5 C1222.6,511.0 1228.3,520.1 1232.4,526.4 C1236.5,532.7 1239.3,538.3 1243.7,543.4 C1248.1,548.5 1253.2,553.1 1258.9,556.7 C1264.6,560.3 1271.6,563.0 1277.9,565.2 C1284.2,567.4 1289.8,569.2 1296.8,570.0 C1303.8,570.8 1313.3,570.0 1319.6,570.0 C1325.9,570.0 1330.6,570.3 1334.7,570.0 C1338.8,569.7 1340.4,567.5 1344.2,568.1 C1348.0,568.7 1352.1,571.5 1357.5,573.7 C1362.9,575.9 1368.5,578.6 1376.4,581.3 C1384.3,584.0 1399.0,588.3 1404.9,589.9 C1410.8,591.5 1410.8,590.8 1412.0,591.0" fill="none" stroke="#377c37" stroke-width="3.3" stroke-linejoin="round" stroke-linecap="butt" stroke-dasharray="11.2 4.8"/>
<path d="M229.5,632.7 C230.4,633.8 232.4,638.1 234.9,639.5 C237.4,640.9 241.0,641.2 244.4,640.8 C247.8,640.3 251.4,638.7 255.2,636.8 C259.0,634.9 263.3,631.8 267.4,629.3 C271.5,626.8 275.5,623.5 279.6,621.9 C283.7,620.3 288.9,620.0 291.8,619.8 C294.7,619.6 294.9,619.8 297.2,620.5 C299.4,621.2 302.4,623.3 305.3,623.9 C308.2,624.5 311.9,624.5 314.8,623.9 C317.7,623.3 320.4,622.4 322.9,620.5 C325.4,618.6 327.2,614.9 329.7,612.4 C332.2,609.9 335.3,608.8 337.8,605.6 C340.3,602.4 342.6,597.0 344.6,593.4 C346.6,589.8 347.8,586.6 350.0,584.0 C352.2,581.4 355.9,578.9 358.1,577.9 C360.4,576.9 361.2,576.9 363.5,577.9 C365.8,578.9 368.8,582.5 371.7,584.0 C374.6,585.5 378.4,587.6 381.1,586.7 C383.8,585.8 385.4,581.9 387.9,578.5 C390.4,575.1 393.3,570.0 396.0,566.4 C398.7,562.8 401.8,558.0 404.2,556.9 C406.6,555.8 408.4,558.7 410.5,560.0 C412.6,561.3 414.8,563.2 417.1,564.6 C419.4,566.0 421.6,568.4 424.2,568.2 C426.8,568.0 430.3,565.9 432.7,563.2 C435.1,560.5 436.2,555.2 438.3,551.9 C440.4,548.6 443.3,543.6 445.4,543.4 C447.5,543.2 449.5,547.0 451.1,550.5 C452.8,554.0 453.7,558.9 455.3,564.6 C456.9,570.3 458.6,579.3 461.0,584.5 C463.4,589.7 466.7,594.4 469.5,595.8 C472.3,597.2 475.2,595.8 478.0,593.0 C480.8,590.2 483.7,583.5 486.5,578.8 C489.3,574.1 492.4,568.0 495.0,564.6 C497.6,561.2 499.7,559.7 502.1,558.3 C504.5,556.9 506.8,556.2 509.2,556.1 C511.6,556.0 513.9,557.7 516.2,557.6 C518.6,557.5 520.7,556.8 523.3,555.4 C525.9,554.0 529.4,551.8 531.8,549.1 C534.2,546.4 535.6,541.3 537.5,539.2 C539.4,537.1 541.2,536.1 543.1,536.3 C545.0,536.5 546.9,537.8 548.8,540.6 C550.7,543.4 552.6,548.8 554.5,553.3 C556.4,557.8 558.2,563.5 560.1,567.5 C562.0,571.5 563.2,575.0 565.8,577.4 C568.4,579.8 572.2,580.6 575.7,581.6 C579.2,582.6 583.8,583.2 587.1,583.1 C590.4,583.0 593.2,582.7 595.6,580.9 C598.0,579.1 599.3,575.1 601.5,572.5 C603.7,569.9 606.4,565.9 608.8,565.5 C611.2,565.1 613.5,567.5 615.9,569.9 C618.3,572.2 620.3,577.2 623.0,579.6 C625.7,582.0 628.4,583.5 631.9,584.1 C635.4,584.7 640.7,583.8 644.2,583.2 C647.7,582.6 650.2,582.1 653.1,580.5 C656.0,578.9 658.4,575.4 661.9,573.5 C665.4,571.6 670.4,570.3 674.3,569.0 C678.1,567.7 681.5,567.7 685.0,565.5 C688.5,563.3 692.4,559.8 695.6,555.8 C698.8,551.8 702.0,547.5 704.4,541.6 C706.8,535.7 707.9,529.8 709.7,520.4 C711.5,511.0 713.2,495.0 715.0,485.0 C716.8,475.0 718.8,466.0 720.4,460.2 C722.0,454.4 723.0,450.4 724.8,450.4 C726.6,450.4 729.1,454.4 731.0,460.2 C732.9,466.0 734.5,477.3 736.3,485.0 C738.1,492.7 739.8,500.6 741.6,506.2 C743.4,511.8 745.1,516.0 746.9,518.6 C748.7,521.2 750.4,521.8 752.2,522.1 C754.0,522.4 755.4,520.4 757.5,520.4 C759.6,520.4 762.5,522.5 764.6,522.1 C766.7,521.7 767.8,518.1 769.9,517.7 C772.0,517.3 774.4,519.0 777.0,519.5 C779.6,520.0 783.0,521.8 785.8,521.0 C788.5,520.2 791.1,516.9 793.5,515.0 C795.9,513.1 797.6,512.0 800.0,509.5 C802.4,507.0 805.3,503.8 807.8,499.9 C810.3,495.9 812.8,491.7 814.9,485.8 C817.0,479.9 818.4,471.3 820.2,464.5 C822.0,457.7 823.9,449.6 825.5,445.0 C827.1,440.4 828.4,437.4 829.9,437.1 C831.4,436.8 832.7,439.3 834.3,443.3 C835.9,447.3 837.8,455.1 839.6,461.0 C841.4,466.9 843.2,473.4 845.0,478.7 C846.8,484.0 847.9,489.4 850.3,492.8 C852.6,496.2 856.5,498.2 859.1,499.0 C861.8,499.8 863.8,498.5 866.2,497.3 C868.6,496.1 870.9,493.1 873.3,491.9 C875.7,490.7 877.4,490.0 880.4,490.2 C883.4,490.4 887.8,491.2 891.0,492.8 C894.2,494.4 896.6,497.2 899.8,499.9 C903.0,502.6 906.6,506.3 910.4,508.8 C914.2,511.3 918.7,513.1 922.8,515.0 C926.9,516.9 931.1,519.5 935.2,520.3 C939.3,521.1 943.6,520.3 947.6,519.6 C951.6,518.9 956.4,518.0 959.5,516.0 C962.6,514.0 964.1,511.2 966.5,507.4 C968.9,503.6 971.2,496.8 973.6,493.3 C976.0,489.8 978.6,486.5 980.7,486.2 C982.8,485.9 984.2,488.2 986.0,491.5 C987.8,494.8 989.2,500.7 991.3,505.7 C993.4,510.7 996.0,517.6 998.4,521.6 C1000.8,525.6 1002.9,528.0 1005.5,529.6 C1008.1,531.2 1011.3,531.8 1014.3,531.3 C1017.2,530.8 1020.5,528.5 1023.2,526.9 C1025.9,525.3 1028.0,521.6 1030.3,521.6 C1032.6,521.6 1034.9,524.0 1037.3,526.9 C1039.7,529.8 1042.0,536.2 1044.4,539.3 C1046.8,542.4 1049.1,545.1 1051.5,545.5 C1053.9,545.9 1056.2,544.1 1058.6,541.9 C1061.0,539.7 1063.3,537.4 1065.7,532.2 C1068.1,527.1 1070.7,518.7 1072.7,511.0 C1074.8,503.3 1076.2,494.8 1078.0,486.2 C1079.8,477.6 1081.6,466.4 1083.4,459.6 C1085.2,452.8 1086.9,448.1 1088.7,445.5 C1090.5,442.9 1091.9,443.3 1094.0,443.7 C1096.1,444.1 1098.4,447.1 1101.1,448.1 C1103.8,449.1 1107.2,448.9 1109.9,449.9 C1112.6,450.9 1114.6,451.5 1117.0,454.3 C1119.4,457.1 1121.7,462.5 1124.1,466.7 C1126.5,470.9 1128.5,476.4 1131.2,479.5 C1133.9,482.6 1136.9,482.2 1140.5,485.0 C1144.1,487.8 1149.1,491.3 1152.7,496.0 C1156.3,500.7 1158.4,506.8 1162.2,513.1 C1166.0,519.4 1171.4,527.9 1175.5,533.9 C1179.6,539.9 1183.1,543.7 1186.9,549.1 C1190.7,554.5 1194.7,560.2 1198.2,566.2 C1201.7,572.2 1204.5,578.8 1207.7,585.1 C1210.9,591.4 1214.4,598.4 1217.2,604.1 C1220.0,609.8 1221.0,614.9 1224.8,619.2 C1228.6,623.5 1233.7,626.7 1240.0,629.7 C1246.3,632.7 1254.2,635.6 1262.7,637.3 C1271.2,639.0 1281.6,639.2 1291.1,640.1 C1300.6,641.0 1310.1,642.0 1319.6,642.9 C1329.1,643.8 1338.5,644.7 1348.0,645.8 C1357.5,646.9 1366.9,648.8 1376.4,649.6 C1385.9,650.4 1399.0,650.3 1404.9,650.5 C1410.8,650.7 1410.8,650.6 1412.0,650.6" fill="none" stroke="#377c37" stroke-width="3.3" stroke-linejoin="round" stroke-linecap="butt"/>
<path d="M230.8,345.8 C233.5,345.4 242.1,344.6 247.1,343.7 C252.1,342.8 256.1,341.4 260.6,340.4 C265.1,339.4 269.9,338.6 274.2,337.7 C278.5,336.8 281.9,335.4 286.4,335.0 C290.9,334.6 296.0,335.2 301.2,335.0 C306.4,334.8 312.3,334.4 317.5,333.6 C322.7,332.8 328.3,331.4 332.4,330.2 C336.5,328.9 338.1,327.3 341.9,326.1 C345.7,324.9 350.9,324.2 355.4,322.8 C359.9,321.4 364.5,319.6 369.0,318.0 C373.5,316.4 378.0,315.1 382.5,313.3 C387.0,311.5 391.5,309.2 396.0,307.2 C400.5,305.2 405.0,303.4 409.6,301.5 C414.2,299.6 418.9,298.1 423.5,295.8 C428.1,293.5 433.2,290.1 437.1,287.7 C441.0,285.3 443.5,282.1 446.6,281.6 C449.8,281.2 452.6,285.3 456.0,285.0 C459.4,284.7 462.8,281.9 466.9,279.6 C471.0,277.4 475.9,274.4 480.4,271.5 C484.9,268.6 489.9,264.5 494.0,262.0 C498.1,259.5 501.0,257.9 504.8,256.6 C508.6,255.4 512.5,254.4 517.0,254.5 C521.5,254.6 526.7,256.5 531.9,257.2 C537.1,257.9 542.9,257.5 548.1,258.6 C553.3,259.7 557.8,262.5 563.0,264.0 C568.2,265.5 573.9,267.1 579.3,267.4 C584.7,267.6 589.8,266.5 595.5,265.5 C601.2,264.5 608.2,262.1 613.5,261.2 C618.8,260.3 622.6,260.6 627.1,259.9 C631.6,259.2 635.6,258.2 640.6,257.2 C645.6,256.2 651.5,254.8 656.9,253.8 C662.3,252.8 667.7,252.1 673.1,251.1 C678.5,250.1 685.3,248.9 689.4,247.7 C693.5,246.4 694.4,245.5 697.5,243.6 C700.6,241.7 704.7,238.7 708.3,236.2 C711.9,233.7 715.8,230.3 719.2,228.7 C722.6,227.1 725.2,227.2 728.6,226.7 C732.0,226.1 736.1,226.5 739.5,225.4 C742.9,224.3 745.2,222.3 749.0,219.9 C752.8,217.5 758.0,214.4 762.5,211.1 C767.0,207.8 771.5,203.5 776.0,200.3 C780.5,197.1 784.3,194.4 789.6,191.7 C794.9,189.0 802.4,186.2 807.6,183.9 C812.9,181.6 817.3,180.1 821.1,177.8 C824.9,175.5 827.9,171.1 830.6,170.3 C833.3,169.5 834.0,172.8 837.4,173.0 C840.8,173.2 846.2,172.1 850.9,171.7 C855.6,171.2 860.1,170.9 865.8,170.3 C871.4,169.7 879.4,168.1 884.8,168.3 C890.2,168.5 893.3,170.5 898.3,171.7 C903.3,172.9 909.4,174.1 914.6,175.7 C919.8,177.3 924.8,179.3 929.5,181.1 C934.2,182.9 938.0,184.9 943.0,186.6 C948.0,188.3 953.9,190.3 959.3,191.3 C964.7,192.3 969.8,191.9 975.5,192.5 C981.2,193.1 988.2,195.2 993.5,195.0 C998.8,194.8 1002.6,193.1 1007.1,191.6 C1011.6,190.1 1015.6,188.1 1020.6,186.2 C1025.6,184.3 1031.5,181.8 1036.9,180.1 C1042.3,178.4 1047.9,177.8 1053.1,176.0 C1058.3,174.2 1063.2,172.1 1068.0,169.3 C1072.8,166.5 1077.1,162.0 1081.6,159.1 C1086.1,156.2 1090.8,153.5 1095.1,151.7 C1099.4,149.9 1103.9,148.2 1107.3,148.3 C1110.7,148.4 1112.2,150.4 1115.4,152.3 C1118.6,154.2 1122.1,156.8 1126.2,159.8 C1130.3,162.9 1135.7,166.8 1139.8,170.6 C1143.9,174.4 1147.2,178.5 1150.6,182.8 C1154.0,187.1 1156.9,191.9 1160.1,196.4 C1163.3,200.9 1167.0,205.3 1170.0,210.0 C1173.0,214.7 1175.0,219.9 1178.0,224.5 C1181.0,229.1 1184.6,232.8 1187.9,237.4 C1191.2,242.0 1194.3,247.1 1197.6,252.0 C1200.8,256.9 1204.2,261.5 1207.4,266.6 C1210.7,271.8 1213.8,278.0 1217.1,282.9 C1220.3,287.8 1223.1,291.6 1226.9,295.9 C1230.7,300.2 1235.3,305.1 1239.9,308.9 C1244.5,312.7 1249.4,315.6 1254.5,318.6 C1259.6,321.6 1264.8,324.7 1270.7,326.7 C1276.7,328.7 1283.2,329.6 1290.2,330.8 C1297.2,332.0 1306.0,333.2 1313.0,334.1 C1320.0,335.1 1326.5,335.6 1332.5,336.5 C1338.5,337.4 1343.3,338.2 1348.7,339.7 C1354.1,341.2 1359.6,343.6 1365.0,345.4 C1370.4,347.2 1374.4,348.9 1381.2,350.3 C1388.0,351.7 1400.5,353.0 1405.6,353.6 C1410.7,354.2 1410.9,353.9 1412.0,354.0" fill="none" stroke="#2e2e9e" stroke-width="3.3" stroke-linejoin="round" stroke-linecap="butt" stroke-dasharray="11.2 4.8"/>
<path d="M229.5,353.9 C230.6,355.1 233.7,359.6 236.2,361.3 C238.7,363.0 241.4,364.1 244.4,364.1 C247.4,364.1 251.2,362.3 253.9,361.3 C256.6,360.3 258.4,359.6 260.6,358.0 C262.9,356.4 265.4,353.7 267.4,351.9 C269.4,350.1 271.0,348.2 272.8,347.1 C274.6,346.0 275.9,346.6 278.2,345.1 C280.5,343.6 284.1,339.1 286.4,338.3 C288.7,337.5 289.8,339.6 291.8,340.4 C293.8,341.2 296.0,342.6 298.5,343.1 C301.0,343.7 304.2,343.5 306.7,343.7 C309.2,343.9 311.4,344.0 313.4,344.4 C315.4,344.8 316.5,345.9 318.8,345.8 C321.1,345.7 324.5,344.9 327.0,343.7 C329.5,342.4 331.7,340.6 333.7,338.3 C335.7,336.1 337.4,332.9 339.2,330.2 C341.0,327.5 342.8,324.8 344.6,322.1 C346.4,319.4 348.2,316.5 350.0,314.0 C351.8,311.5 353.6,309.1 355.4,307.2 C357.2,305.3 359.1,303.4 360.8,302.4 C362.5,301.4 363.8,301.0 365.6,301.1 C367.4,301.2 369.8,302.0 371.7,303.1 C373.6,304.2 375.3,306.4 377.1,307.9 C378.9,309.4 380.8,310.9 382.5,311.9 C384.2,312.9 385.6,314.1 387.2,314.0 C388.8,313.9 390.3,312.4 392.0,311.2 C393.7,309.9 395.8,307.7 397.4,306.5 C399.0,305.3 399.8,303.9 401.4,303.8 C403.0,303.7 405.1,304.8 406.9,305.8 C408.7,306.8 410.6,308.9 412.3,310.0 C414.0,311.1 415.4,311.9 417.0,312.5 C418.6,313.1 420.2,313.0 422.2,313.4 C424.2,313.8 427.0,315.2 429.0,314.8 C431.0,314.4 432.8,312.7 434.4,310.7 C436.0,308.7 437.0,306.2 438.4,302.6 C439.8,299.0 441.1,292.7 442.5,289.1 C443.9,285.5 445.2,280.7 446.6,280.9 C448.0,281.1 449.2,286.3 450.6,290.4 C452.0,294.5 453.1,300.8 454.7,305.3 C456.3,309.8 458.1,314.4 460.1,317.5 C462.1,320.6 464.6,322.4 466.9,323.6 C469.1,324.8 471.4,325.5 473.6,324.9 C475.9,324.3 478.1,322.6 480.4,320.2 C482.7,317.8 484.9,314.1 487.2,310.7 C489.5,307.3 492.0,302.4 494.0,299.9 C496.0,297.4 497.1,296.9 499.4,295.8 C501.6,294.7 504.8,293.2 507.5,293.1 C510.2,293.0 512.9,294.5 515.6,295.2 C518.3,295.9 521.0,297.5 523.7,297.2 C526.4,296.9 529.2,294.8 531.9,293.1 C534.6,291.4 537.8,288.7 540.0,287.0 C542.2,285.3 543.6,282.9 545.4,283.0 C547.2,283.1 549.0,285.3 550.8,287.7 C552.6,290.1 554.4,294.0 556.2,297.2 C558.0,300.4 559.4,304.2 561.7,306.7 C564.0,309.2 566.9,311.1 569.8,312.1 C572.7,313.1 576.1,312.5 579.3,312.8 C582.4,313.1 585.6,314.2 588.7,314.1 C591.9,314.0 595.7,313.5 598.2,312.0 C600.7,310.5 602.0,307.1 603.6,305.0 C605.2,302.9 606.5,300.8 608.0,299.5 C609.5,298.2 611.1,297.1 612.9,297.5 C614.7,297.9 617.1,300.0 619.0,301.9 C620.9,303.8 621.9,306.9 624.4,308.6 C626.9,310.3 630.8,311.9 633.9,312.0 C637.0,312.1 639.9,310.8 643.3,309.3 C646.7,307.8 650.6,305.3 654.2,303.2 C657.8,301.1 661.4,298.2 665.0,296.5 C668.6,294.8 672.2,294.2 675.8,293.1 C679.4,292.0 683.8,291.3 686.7,289.7 C689.6,288.1 690.7,285.5 693.4,283.6 C696.1,281.7 700.4,280.6 702.9,278.2 C705.4,275.8 706.7,273.1 708.3,269.4 C709.9,265.7 711.0,261.2 712.4,255.8 C713.8,250.4 715.1,243.7 716.5,236.9 C717.9,230.1 718.8,220.6 720.5,215.2 C722.2,209.8 724.8,205.1 726.6,204.4 C728.4,203.7 729.8,207.3 731.3,211.1 C732.8,214.9 733.8,221.3 735.4,227.4 C737.0,233.5 739.0,242.6 740.8,247.7 C742.6,252.8 743.9,255.9 746.2,257.9 C748.5,259.9 751.9,260.2 754.4,259.9 C756.9,259.5 758.6,257.1 761.1,255.8 C763.6,254.5 766.1,252.2 769.3,251.8 C772.5,251.4 776.7,253.3 780.1,253.1 C783.5,252.9 786.4,251.7 789.6,250.4 C792.8,249.1 796.5,248.0 799.5,245.5 C802.5,243.0 804.9,238.8 807.6,235.3 C810.3,231.8 813.2,228.8 815.7,224.5 C818.2,220.2 820.6,214.8 822.5,209.6 C824.4,204.4 825.6,197.7 827.2,193.3 C828.8,188.9 830.4,183.9 832.0,183.2 C833.6,182.5 835.1,185.8 836.7,189.3 C838.3,192.8 839.8,199.5 841.5,204.2 C843.2,208.9 845.1,214.1 846.9,217.7 C848.7,221.3 849.8,224.0 852.3,225.8 C854.8,227.6 858.6,228.7 861.8,228.5 C864.9,228.3 867.8,226.4 871.2,224.5 C874.6,222.6 879.2,216.8 882.1,217.0 C885.0,217.2 886.4,222.5 888.9,225.8 C891.4,229.1 894.3,233.5 897.0,236.7 C899.7,239.9 902.2,242.3 905.1,244.8 C908.0,247.3 911.2,249.3 914.6,251.6 C918.0,253.8 921.8,256.7 925.4,258.3 C929.0,259.9 932.8,260.1 936.2,261.0 C939.6,261.9 942.3,262.9 945.7,263.7 C949.1,264.5 953.4,266.2 956.6,265.8 C959.8,265.4 962.0,263.8 964.7,261.0 C967.4,258.2 970.1,252.4 972.8,248.8 C975.5,245.2 978.8,240.5 980.9,239.4 C983.0,238.3 983.8,240.3 985.4,242.4 C987.0,244.5 988.8,248.1 990.8,251.9 C992.8,255.7 995.3,261.7 997.6,265.4 C999.9,269.1 1001.9,272.4 1004.4,274.2 C1006.9,276.0 1010.0,276.8 1012.5,276.2 C1015.0,275.6 1017.0,273.3 1019.3,270.8 C1021.5,268.3 1023.5,264.0 1026.0,261.3 C1028.5,258.6 1031.7,254.8 1034.2,254.6 C1036.7,254.4 1038.7,258.2 1040.9,260.0 C1043.2,261.8 1045.2,264.0 1047.7,265.4 C1050.2,266.8 1053.1,268.3 1055.8,268.1 C1058.5,267.9 1061.7,265.7 1064.0,264.1 C1066.3,262.5 1067.6,261.8 1069.4,258.6 C1071.2,255.4 1073.0,250.1 1074.8,245.1 C1076.6,240.1 1078.4,234.3 1080.2,228.9 C1082.0,223.5 1083.6,216.4 1085.6,212.6 C1087.6,208.8 1090.1,206.0 1092.4,205.8 C1094.7,205.6 1096.7,209.2 1099.2,211.2 C1101.7,213.2 1104.6,216.4 1107.3,218.0 C1110.0,219.6 1113.2,219.1 1115.4,220.7 C1117.7,222.3 1119.0,224.6 1120.8,227.5 C1122.6,230.4 1124.2,235.2 1126.2,238.3 C1128.2,241.4 1130.5,244.3 1133.0,245.8 C1135.5,247.3 1138.4,247.0 1141.1,247.1 C1143.8,247.2 1146.1,245.5 1149.3,246.5 C1152.5,247.5 1156.7,250.7 1160.1,253.2 C1163.5,255.7 1166.3,259.0 1169.6,261.5 C1172.9,264.0 1176.7,265.7 1179.7,268.2 C1182.8,270.7 1185.2,273.8 1187.9,276.4 C1190.6,279.0 1193.6,280.4 1196.0,283.7 C1198.4,286.9 1200.1,291.7 1202.5,295.9 C1204.9,300.1 1208.2,304.6 1210.6,308.9 C1213.0,313.2 1214.7,317.6 1217.1,321.9 C1219.5,326.2 1221.7,330.6 1225.2,334.9 C1228.7,339.2 1233.9,344.9 1238.2,347.9 C1242.5,350.9 1246.3,351.2 1251.2,352.7 C1256.1,354.2 1262.1,355.7 1267.5,356.8 C1272.9,357.9 1278.3,358.4 1283.7,359.2 C1289.1,360.0 1294.6,361.0 1300.0,361.7 C1305.4,362.4 1310.8,363.0 1316.2,363.3 C1321.6,363.6 1327.1,363.0 1332.5,363.3 C1337.9,363.6 1343.3,364.1 1348.7,364.9 C1354.1,365.7 1359.6,367.5 1365.0,368.2 C1370.4,368.9 1374.4,368.7 1381.2,369.0 C1388.0,369.3 1400.5,369.6 1405.6,369.8 C1410.7,370.0 1410.9,370.0 1412.0,370.0" fill="none" stroke="#2e2e9e" stroke-width="3.3" stroke-linejoin="round" stroke-linecap="butt"/>
</g>
<rect x="222.00" y="42.60" width="1187.50" height="909.20" fill="none" stroke="#000" stroke-width="4.6"/>
<text x="79.51" y="924.80" font-size="40.50" textLength="95.97" lengthAdjust="spacingAndGlyphs" fill="#222" >1000</text>
<line x1="199" y1="909.80" x2="222" y2="909.80" stroke="#000" stroke-width="4.6"/>
<text x="80.66" y="784.93" font-size="40.50" textLength="94.81" lengthAdjust="spacingAndGlyphs" fill="#222" >2000</text>
<line x1="199" y1="769.93" x2="222" y2="769.93" stroke="#000" stroke-width="4.6"/>
<text x="81.19" y="645.07" font-size="40.50" textLength="94.27" lengthAdjust="spacingAndGlyphs" fill="#222" >3000</text>
<line x1="199" y1="630.07" x2="222" y2="630.07" stroke="#000" stroke-width="4.6"/>
<text x="81.83" y="505.20" font-size="40.50" textLength="93.61" lengthAdjust="spacingAndGlyphs" fill="#222" >4000</text>
<line x1="199" y1="490.20" x2="222" y2="490.20" stroke="#000" stroke-width="4.6"/>
<text x="81.10" y="365.33" font-size="40.50" textLength="94.36" lengthAdjust="spacingAndGlyphs" fill="#222" >5000</text>
<line x1="199" y1="350.33" x2="222" y2="350.33" stroke="#000" stroke-width="4.6"/>
<text x="80.64" y="225.47" font-size="40.50" textLength="94.83" lengthAdjust="spacingAndGlyphs" fill="#222" >6000</text>
<line x1="199" y1="210.47" x2="222" y2="210.47" stroke="#000" stroke-width="4.6"/>
<text x="80.61" y="85.60" font-size="40.50" textLength="94.85" lengthAdjust="spacingAndGlyphs" fill="#222" >7000</text>
<line x1="199" y1="70.60" x2="222" y2="70.60" stroke="#000" stroke-width="4.6"/>
<text x="186.68" y="1029.00" font-size="40.50" textLength="69.75" lengthAdjust="spacingAndGlyphs" fill="#222" >800</text>
<line x1="222.00" y1="951.80" x2="222.00" y2="974.8" stroke="#000" stroke-width="4.6"/>
<text x="412.59" y="1029.00" font-size="40.50" textLength="93.86" lengthAdjust="spacingAndGlyphs" fill="#222" >1000</text>
<line x1="459.50" y1="951.80" x2="459.50" y2="974.8" stroke="#000" stroke-width="4.6"/>
<text x="649.29" y="1029.00" font-size="40.50" textLength="93.86" lengthAdjust="spacingAndGlyphs" fill="#222" >1200</text>
<line x1="697.00" y1="951.80" x2="697.00" y2="974.8" stroke="#000" stroke-width="4.6"/>
<text x="887.29" y="1029.00" font-size="40.50" textLength="93.86" lengthAdjust="spacingAndGlyphs" fill="#222" >1400</text>
<line x1="934.50" y1="951.80" x2="934.50" y2="974.8" stroke="#000" stroke-width="4.6"/>
<text x="1125.29" y="1029.00" font-size="40.50" textLength="93.86" lengthAdjust="spacingAndGlyphs" fill="#222" >1600</text>
<line x1="1172.00" y1="951.80" x2="1172.00" y2="974.8" stroke="#000" stroke-width="4.6"/>
<text x="1361.57" y="1029.00" font-size="40.50" textLength="94.28" lengthAdjust="spacingAndGlyphs" fill="#222" >1800</text>
<line x1="1409.50" y1="951.80" x2="1409.50" y2="974.8" stroke="#000" stroke-width="4.6"/>
<text transform="translate(56.80,648.81) rotate(-90)" x="0" y="0" font-size="40.50" textLength="296.21" lengthAdjust="spacingAndGlyphs" fill="#222">Intensity (a.u.)</text>
<text x="623.28" y="1087.20" font-size="40.50" textLength="319.75" lengthAdjust="spacingAndGlyphs" fill="#222" >Raman Shift (cm</text>
<rect x="951" y="1061" width="16.5" height="3" fill="#222"/>
<text x="978.15" y="1071.60" font-size="30.00" textLength="14.96" lengthAdjust="spacingAndGlyphs" fill="#222" >1</text>
<text x="999.32" y="1087.20" font-size="40.50" textLength="10.17" lengthAdjust="spacingAndGlyphs" fill="#222" >)</text>
<line x1="254" y1="95.5" x2="336.5" y2="95.5" stroke="#d4d4fa" stroke-width="6.3"/>
<line x1="255" y1="95.5" x2="335.5" y2="95.5" stroke="#2c2c8c" stroke-width="3.3"/>
<line x1="254" y1="152.4" x2="336.5" y2="152.4" stroke="#d2f2d2" stroke-width="7"/>
<line x1="255" y1="152.4" x2="335.5" y2="152.4" stroke="#3a833a" stroke-width="4.0"/>
<line x1="255" y1="215.2" x2="335.5" y2="215.2" stroke="#1e1e1e" stroke-width="3.2"/>
<text x="364.85" y="108.80" font-size="40.00" textLength="107.26" lengthAdjust="spacingAndGlyphs" fill="#222" >PPy-C</text>
<text x="364.81" y="168.40" font-size="40.00" textLength="102.64" lengthAdjust="spacingAndGlyphs" fill="#222" >PPy-L</text>
<text x="365.34" y="229.00" font-size="40.00" textLength="150.01" lengthAdjust="spacingAndGlyphs" fill="#222" >PPy-ClO</text>
<text x="516.89" y="235.30" font-size="28.00" textLength="14.90" lengthAdjust="spacingAndGlyphs" fill="#222" >4</text>
<text transform="translate(627.50,258.05) rotate(-90)" x="0" y="0" font-size="26.50" textLength="59.86" lengthAdjust="spacingAndGlyphs" fill="#222">1131</text>
<text transform="translate(840.20,162.71) rotate(-90)" x="0" y="0" font-size="26.50" textLength="64.42" lengthAdjust="spacingAndGlyphs" fill="#222">1315</text>
<text transform="translate(453.20,483.91) rotate(-90)" x="0" y="0" font-size="26.50" textLength="50.34" lengthAdjust="spacingAndGlyphs" fill="#222">989</text>
<text transform="translate(730.20,403.21) rotate(-90)" x="0" y="0" font-size="26.50" textLength="64.56" lengthAdjust="spacingAndGlyphs" fill="#222">1224</text>
<text transform="translate(989.20,472.24) rotate(-90)" x="0" y="0" font-size="26.50" textLength="65.39" lengthAdjust="spacingAndGlyphs" fill="#222">1440</text>
</g>
</svg>
</body></html>
